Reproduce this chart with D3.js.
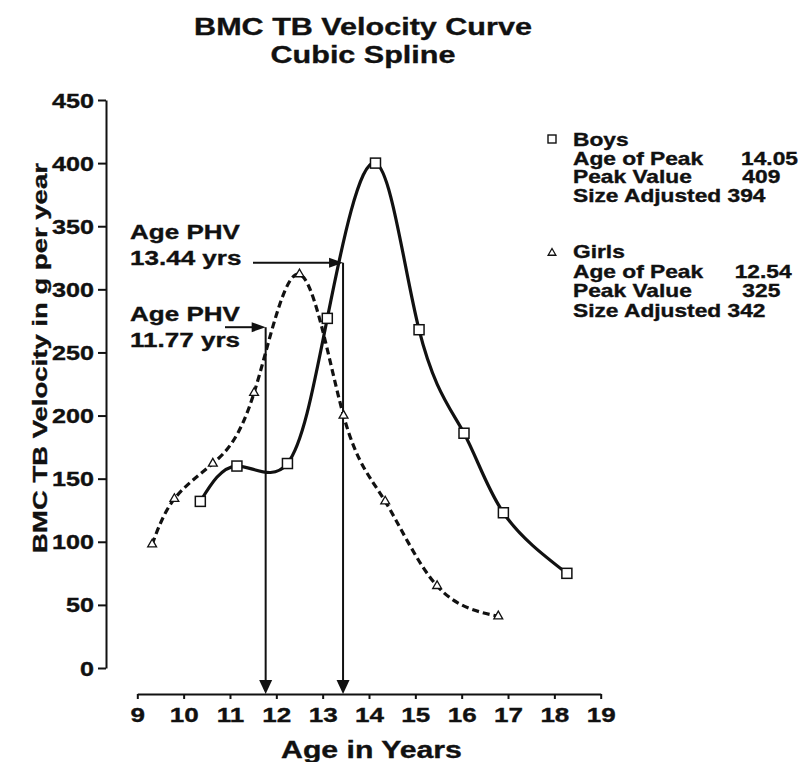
<!DOCTYPE html>
<html>
<head>
<meta charset="utf-8">
<script src="https://cdn.jsdelivr.net/npm/d3@7"></script>
<style>
  html, body { margin: 0; padding: 0; background: #fff; }
  svg { display: block; font-family: "Liberation Sans", Arial, Helvetica, sans-serif; font-weight: bold; }
  text { fill: #111; stroke: #111; stroke-width: 0.35px; white-space: pre; }
</style>
</head>
<body>
<svg id="chart" width="801" height="762"></svg>
<script>
// Bone mineral content (total body) velocity, g per year, by age
const boysAge = [10.36, 11.15, 12.24, 13.10, 14.14, 15.08, 16.05, 16.90, 18.27];
const boysVelocity = [132, 160, 162, 277, 400, 268, 186, 123, 75];
const girlsAge = [9.32, 9.80, 10.63, 11.52, 12.50, 13.45, 14.35, 15.47, 16.79];
const girlsVelocity = [98, 134, 162, 218, 312, 200, 132, 65, 41];

// Age at peak height velocity and the BMC velocity reached there (boys, girls)
const phvAge = [13.44, 11.77];
const phvVelocity = [321, 270];
const phvText = [["Age PHV", "13.44 yrs"], ["Age PHV", "11.77 yrs"]];

const xTicks = [9, 10, 11, 12, 13, 14, 15, 16, 17, 18, 19];
const yTicks = [0, 50, 100, 150, 200, 250, 300, 350, 400, 450];

const titleLines = ["BMC TB Velocity Curve", "Cubic Spline"];
const xTitle = "Age in Years";
const yTitle = "BMC TB Velocity in g per year";

const legendBoys = ["Boys", "Age of Peak      14.05", "Peak Value        409", "Size Adjusted 394"];
const legendGirls = ["Girls", "Age of Peak     12.54", "Peak Value        325", "Size Adjusted 342"];

const svg = d3.select("#chart");
const x = d3.scaleLinear().domain([9, 19]).range([137.3, 600.7]);
const y = d3.scaleLinear().domain([0, 450]).range([668, 100]);

// Text is drawn with a horizontal stretch to get the wide bold lettering
function stretchedText(parent, str, px, py, size, anchor, sx, rotate) {
  return parent.append("text")
    .attr("transform", `translate(${px},${py})` + (rotate ? ` rotate(${rotate})` : "") + ` scale(${sx},1)`)
    .attr("text-anchor", anchor)
    .attr("font-size", size)
    .text(str);
}

// Title
titleLines.forEach((t, i) => stretchedText(svg, t, 363, 35 + i * 28, 23.5, "middle", 1.3));

// Y axis
const gy = svg.append("g").attr("transform", "translate(106,0)")
  .call(d3.axisLeft(y).tickValues(yTicks).tickSize(8).tickSizeOuter(0).tickPadding(4));
gy.select(".domain").attr("stroke", "#111").attr("stroke-width", 2);
gy.selectAll(".tick line").attr("stroke", "#111").attr("stroke-width", 2);
gy.selectAll(".tick text")
  .attr("font-size", 19.5).attr("font-family", null).attr("fill", "#111")
  .attr("x", -12 / 1.29).attr("dy", "0.36em")
  .attr("transform", "scale(1.29,1)");

// X axis (offset below the y axis)
const gx = svg.append("g").attr("transform", "translate(0,694)")
  .call(d3.axisBottom(x).tickValues(xTicks).tickSize(5).tickSizeOuter(0).tickPadding(8));
gx.select(".domain").attr("stroke", "#111").attr("stroke-width", 2);
gx.selectAll(".tick line").attr("stroke", "#111").attr("stroke-width", 2);
gx.selectAll(".tick text")
  .attr("font-size", 20.5).attr("font-family", null).attr("fill", "#111")
  .attr("transform", "scale(1.27,1)")
  .attr("x", 0);

// Axis titles
stretchedText(svg, xTitle, 371.5, 758, 24, "middle", 1.26);
stretchedText(svg, yTitle, 47, 358, 21, "middle", 1.31, -90);

// Curves
const line = d3.line().x(d => x(d[0])).y(d => y(d[1])).curve(d3.curveNatural);
const boys = d3.zip(boysAge, boysVelocity);
const girls = d3.zip(girlsAge, girlsVelocity);

svg.append("path").datum(girls)
  .attr("d", line).attr("fill", "none").attr("stroke", "#111")
  .attr("stroke-width", 3.2).attr("stroke-dasharray", "7,4");
svg.append("path").datum(boys)
  .attr("d", line).attr("fill", "none").attr("stroke", "#111")
  .attr("stroke-width", 3.2);

function arrowHead(parent, tipX, tipY, dir, len, half) {
  let pts;
  if (dir === "right") pts = [[tipX, tipY], [tipX - len, tipY - half], [tipX - len, tipY + half]];
  else pts = [[tipX, tipY], [tipX - half, tipY - len], [tipX + half, tipY - len]];
  parent.append("path").attr("d", "M" + pts.join("L") + "Z").attr("fill", "#111");
}

// Peak height velocity markers: horizontal arrow in, vertical arrow down to the age axis
const phvGroup = svg.append("g");
const arrowStart = [253, 225];
const labelTop = [239, 321];
phvAge.forEach((age, i) => {
  const px = x(age);
  const py = y(phvVelocity[i]);
  phvGroup.append("line").attr("x1", arrowStart[i]).attr("x2", px - 10)
    .attr("y1", py).attr("y2", py).attr("stroke", "#111").attr("stroke-width", 2);
  arrowHead(phvGroup, px, py, "right", 14, 5);
  phvGroup.append("line").attr("x1", px).attr("x2", px)
    .attr("y1", py).attr("y2", 682).attr("stroke", "#111").attr("stroke-width", 2);
  arrowHead(phvGroup, px, 694, "down", 14, 6.5);
  phvText[i].forEach((t, j) => stretchedText(svg, t, 130, labelTop[i] + j * 26, 21, "start", 1.24));
});

// Markers
svg.append("g").selectAll("rect").data(boys).join("rect")
  .attr("x", d => x(d[0]) - 5).attr("y", d => y(d[1]) - 5)
  .attr("width", 10).attr("height", 10)
  .attr("fill", "#fff").attr("stroke", "#111").attr("stroke-width", 1.5);
const tri = d3.symbol(d3.symbolTriangle).size(34);
svg.append("g").selectAll("path").data(girls).join("path")
  .attr("d", tri).attr("transform", d => `translate(${x(d[0])},${y(d[1])})`)
  .attr("fill", "#fff").attr("stroke", "#111").attr("stroke-width", 1.3);

// Legend
const lg = svg.append("g");
lg.append("rect").attr("x", 548).attr("y", 135).attr("width", 8).attr("height", 8)
  .attr("fill", "#fff").attr("stroke", "#111").attr("stroke-width", 1.4);
legendBoys.forEach((t, j) => stretchedText(lg, t, 573, 146 + j * 18.7, 17.5, "start", 1.3));
lg.append("path").attr("d", d3.symbol(d3.symbolTriangle).size(26))
  .attr("transform", "translate(552,253)")
  .attr("fill", "#fff").attr("stroke", "#111").attr("stroke-width", 1.3);
legendGirls.forEach((t, j) => stretchedText(lg, t, 573, 258 + j * 19.5, 17.5, "start", 1.3));
</script>
</body>
</html>
